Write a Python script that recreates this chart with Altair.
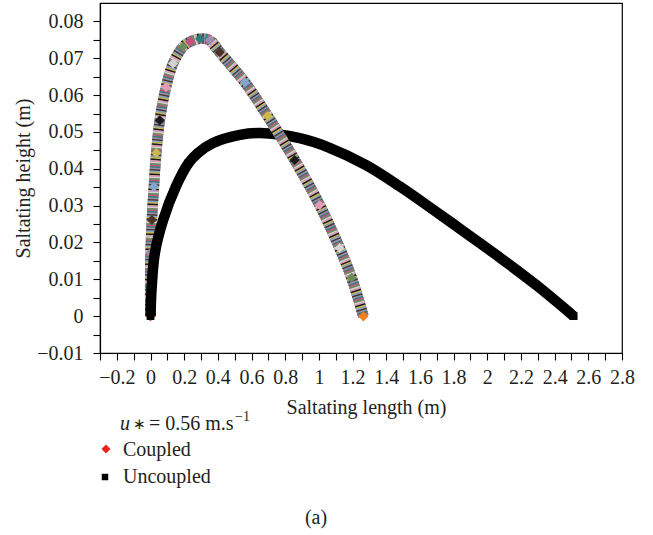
import altair as alt
import pandas as pd

# ---- data ----
coupled_x = [0.0, -0.002, 0.001, 0.008, 0.020, 0.034, 0.055, 0.092, 0.134, 0.193, 0.235, 0.294,
             0.353, 0.412, 0.560, 0.696, 0.856, 1.004, 1.123, 1.194, 1.264]
coupled_y = [0.0, 0.0071, 0.0172, 0.0261, 0.0351, 0.0443, 0.0532, 0.0622, 0.0686, 0.0731, 0.0745, 0.0753,
             0.0749, 0.0716, 0.0635, 0.0543, 0.0424, 0.0302, 0.0185, 0.0104, 0.0]

uncoupled_x = [0.0, 0.006, 0.026, 0.075, 0.150, 0.225, 0.282, 0.371, 0.531, 0.649, 0.886, 1.063,
               1.280, 1.478, 1.673, 1.872, 2.069, 2.286, 2.513]
uncoupled_y = [0.0, 0.0071, 0.0172, 0.0261, 0.0351, 0.0415, 0.0443, 0.0470, 0.0492, 0.0497, 0.0483, 0.0457,
               0.0410, 0.0353, 0.0291, 0.0226, 0.0161, 0.0086, 0.0]

x_tick_values = [-0.3, -0.2, -0.1, 0.0, 0.1, 0.2, 0.3, 0.4, 0.5, 0.6, 0.7, 0.8, 0.9, 1.0, 1.1, 1.2, 1.3,
                 1.4, 1.5, 1.6, 1.7, 1.8, 1.9, 2.0, 2.1, 2.2, 2.3, 2.4, 2.5, 2.6, 2.7, 2.8]
y_tick_values = [-0.01, -0.005, 0.0, 0.005, 0.01, 0.015, 0.02, 0.025, 0.03, 0.035, 0.04, 0.045, 0.05,
                 0.055, 0.06, 0.065, 0.07, 0.075, 0.08]

stripe_colors = ["#c8507e", "#2e7d7a", "#9a8fb0", "#4a3428", "#7fa7cf",
                 "#c9b94a", "#1a1a1a", "#e59ab8", "#d2d2d2", "#6b8e5a"]

FONT = "Liberation Serif"
TXT = "#231f20"
W, H = 522, 350
LEFT, TOP = 100, 3

df_c = pd.DataFrame({"x": coupled_x, "y": coupled_y, "i": range(len(coupled_x))})
df_c["c"] = [stripe_colors[k % len(stripe_colors)] for k in range(len(df_c))]
df_c.loc[0, "c"] = "#e8231f"
df_c.loc[len(df_c) - 1, "c"] = "#f08020"
df_u = pd.DataFrame({"x": uncoupled_x, "y": uncoupled_y, "i": range(len(uncoupled_x))})

xscale = alt.Scale(domain=[-0.3, 2.8], nice=False, zero=False)
yscale = alt.Scale(domain=[-0.01, 0.085], nice=False, zero=False)

xaxis = alt.Axis(
    values=x_tick_values,
    labelExpr="abs(round(datum.value*10)) % 2 == 0 ? format(datum.value, '.1~f') : ''",
    title="Saltating length (m)", grid=False, tickSize=7, labelPadding=7,
    labelFlush=False, labelOverlap=False, labelBound=False,
    titleY=60, titleX=266, titleBaseline="alphabetic",
)
yaxis = alt.Axis(
    values=y_tick_values,
    labelExpr="abs(round(datum.value*200)) % 2 == 0 ? format(datum.value, '.2~f') : ''",
    title="Saltating height (m)", grid=False, tickSize=7, labelPadding=10,
    labelFlush=False, labelOverlap=False, labelBound=False,
    titleX=-71, titleY=175, titleAngle=-90, titleBaseline="alphabetic", titleAlign="center",
)

X = alt.X("x:Q", scale=xscale, axis=xaxis)
Y = alt.Y("y:Q", scale=yscale, axis=yaxis)
enc = dict(x=X, y=Y, order=alt.Order("i:Q"))
INTERP = "catmull-rom"


def coupled_layers(df):
    out = [alt.Chart(df).mark_line(strokeWidth=10.5, color="#8c7d86", strokeCap="butt",
                                   strokeJoin="round", interpolate=INTERP).encode(**enc)]
    for k, col in enumerate(stripe_colors):
        out.append(
            alt.Chart(df).mark_line(strokeWidth=10.5, color=col, strokeCap="butt", strokeJoin="round",
                                    interpolate=INTERP, strokeDash=[1.5, 13.5],
                                    strokeDashOffset=1.5 * k).encode(**enc)
        )
    out.append(
        alt.Chart(df).mark_point(shape="diamond", filled=True, size=100, opacity=1).encode(
            x=X, y=Y, color=alt.Color("c:N", scale=None)))
    return out


layers = []
layers += coupled_layers(df_c)
layers.append(alt.Chart(df_u).mark_line(strokeWidth=10.5, color="black", strokeCap="butt",
                                        strokeJoin="round", interpolate=INTERP).encode(**enc))
layers.append(alt.Chart(df_u).mark_point(shape="square", filled=True, size=60, color="black",
                                         opacity=1).encode(x=X, y=Y))
layers += coupled_layers(df_c[df_c["x"] >= 0.3])

# ---- legend / annotations (pixel positions relative to plot origin) ----
one = pd.DataFrame({"a": [0]})


def txt(s, px, py, size=20, style="normal", align="left"):
    return alt.Chart(one).mark_text(text=s, font=FONT, fontSize=size, fontStyle=style, color=TXT,
                                    align=align, baseline="alphabetic").encode(
        x=alt.value(px - LEFT), y=alt.value(py - TOP))


layers += [
    txt("u", 120, 430, style="italic"),
    txt("∗", 133, 429, size=15),
    txt("= 0.56 m.s", 149, 430),
    txt("−1", 235, 421, size=14),
    txt("Coupled", 123, 456),
    txt("Uncoupled", 123, 483),
    txt("(a)", 316, 524, align="center"),
    alt.Chart(one).mark_point(shape="diamond", filled=True, size=80, color="#e8231f", opacity=1).encode(
        x=alt.value(106 - LEFT), y=alt.value(449 - TOP)),
    alt.Chart(one).mark_point(shape="square", filled=True, size=42, color="black", opacity=1).encode(
        x=alt.value(105 - LEFT), y=alt.value(477 - TOP)),
]

chart = alt.layer(*layers).properties(
    width=W, height=H,
    autosize=alt.AutoSizeParams(type="none"),
    padding={"left": LEFT, "top": TOP, "right": 653 - LEFT - W, "bottom": 535 - TOP - H},
    background="white",
).configure_view(stroke="black", strokeWidth=1.2).configure_axis(
    domainColor="black", domainWidth=1.2, tickColor="black", tickWidth=1.1,
    labelFont=FONT, labelFontSize=20, labelColor=TXT,
    titleFont=FONT, titleFontSize=20, titleFontWeight="normal", titleColor=TXT,
)

chart.save("out.html", embed_options={"renderer": "svg", "actions": False})
